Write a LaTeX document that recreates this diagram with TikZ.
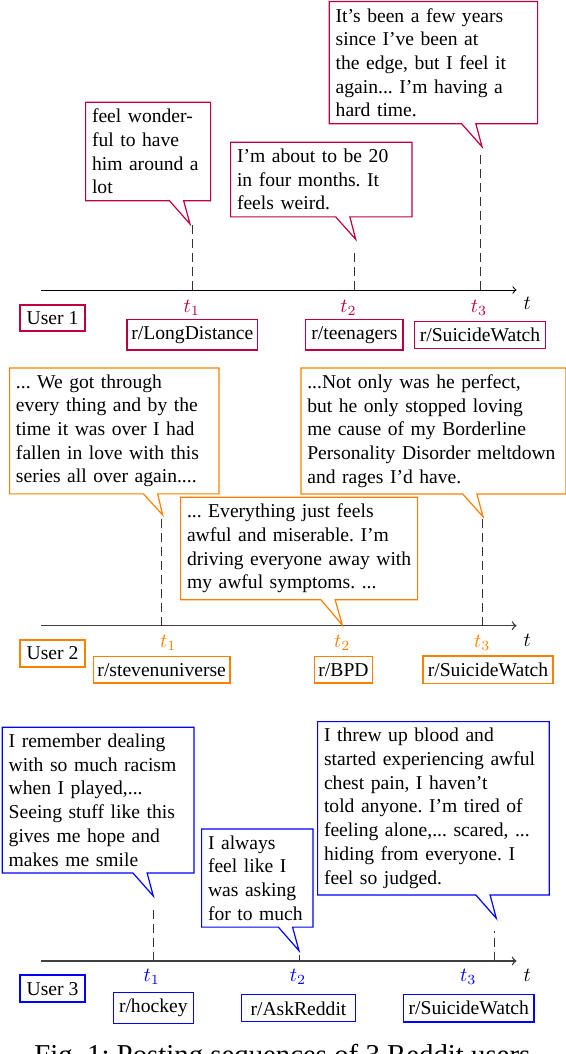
\documentclass[tikz,border=0pt]{standalone}
\usepackage{fontspec}
\setmainfont{Liberation Serif}
\usetikzlibrary{shapes.callouts}
\definecolor{uone}{rgb}{0.75,0,0.25}
\definecolor{utwo}{rgb}{1,0.5,0}
\definecolor{uthree}{rgb}{0,0,1}
\frenchspacing
\begin{document}
\begin{tikzpicture}[x=0.5pt,y=-0.5pt,
  every node/.style={font=\fontsize{9.8}{11.85}\selectfont},
  bubble/.style={rectangle callout, draw=#1, line width=0.6pt, fill=white,
    anchor=north west, align=left, inner xsep=3.2pt, inner ysep=3.33pt},
  subbox/.style={draw=#1, line width=0.6pt, inner xsep=1.5pt, inner ysep=3.33pt},
  userbox/.style={draw=#1, line width=1pt, inner sep=3.33pt},
  tlab/.style={text=#1, inner sep=0pt},
  axisline/.style={->, line width=#1},
  guide/.style={line width=0.5pt, dash pattern=on 4.5pt off 2.5pt, draw=black!80}
]
\useasboundingbox (0,0) rectangle (566,1054);
\clip (0,0) rectangle (566,1054);

% ---------------- User 1 ----------------
\coordinate (o1) at (41,290);
\coordinate (e1) at (516.5,290);
\draw[axisline=0.5pt] (o1) -- (e1);
\node (tt1) at (527.3,303.3) {$t$};
\coordinate (a11) at (192.3,290); \coordinate (d11) at (192.3,225);
\coordinate (a12) at (354.7,290); \coordinate (d12) at (354.7,248);
\coordinate (a13) at (480.3,290); \coordinate (d13) at (480.3,153);
\draw[guide] (a11) -- (d11);
\draw[guide] (a12) -- (d12);
\draw[guide] (a13) -- (d13);
\coordinate (p11) at (190,224);
\coordinate (p12) at (355.7,239.3);
\coordinate (p13) at (482,146.7);
\node[bubble=uone, text width=56.1pt, callout absolute pointer={(p11)}] (b11) at (85,101.7)
  {\mbox{feel wonder-}\\\mbox{ful to have}\\\mbox{him around a}\\\mbox{lot}};
\node[bubble=uone, text width=84.25pt, callout absolute pointer={(p12)}] (b12) at (230,141.7)
  {\mbox{I'm about to be 20}\\\mbox{in four months. It}\\\mbox{feels weird.}};
\node[bubble=uone, text width=97.75pt, callout absolute pointer={(p13)}] (b13) at (328.7,1)
  {\mbox{It's been a few years}\\\mbox{since I've been at}\\\mbox{the edge, but I feel it}\\\mbox{again... I'm having a}\\\mbox{hard time.}};
\node[tlab=uone] (l11) at (191.7,308) {$t_1$};
\node[tlab=uone] (l12) at (348.5,308) {$t_2$};
\node[tlab=uone] (l13) at (479,308) {$t_3$};
\node[userbox=uone] (u1) at (52.5,318.2) {User 1};
\node[subbox=uone, minimum width=65.35pt] (s11) at (192.4,334.8) {r/LongDistance};
\node[subbox=uone, minimum width=48.65pt] (s12) at (354.4,334.8) {r/teenagers};
\node[subbox=uone, minimum width=65.3pt] (s13) at (480,335) {r/SuicideWatch};

% ---------------- User 2 ----------------
\coordinate (o2) at (41,625.7);
\coordinate (e2) at (516.5,625.7);
\draw[axisline=0.7pt, draw=black!75] (o2) -- (e2);
\node (tt2) at (527.3,640) {$t$};
\coordinate (a21) at (161.7,625.7); \coordinate (d21) at (161.7,515);
\coordinate (a23) at (482.3,625.7); \coordinate (d23) at (482.3,518);
\draw[guide] (a21) -- (d21);
\draw[guide] (a23) -- (d23);
\coordinate (p21) at (162.7,515);
\coordinate (p22) at (342.3,625);
\coordinate (p23) at (483,516.7);
\node[bubble=utwo, text width=98.25pt, callout absolute pointer={(p21)}] (b21) at (9,367.3)
  {\mbox{... We got through}\\\mbox{every thing and by the}\\\mbox{time it was over I had}\\\mbox{fallen in love with this}\\\mbox{series all over again....}};
\node[bubble=utwo, text width=112.1pt, callout absolute pointer={(p22)}] (b22) at (180,496.7)
  {\mbox{... Everything just feels}\\\mbox{awful and miserable. I'm}\\\mbox{driving everyone away with}\\\mbox{my awful symptoms. ...}};
\node[bubble=utwo, text width=126.1pt, callout absolute pointer={(p23)}] (b23) at (300.3,367.3)
  {\mbox{...Not only was he perfect,}\\\mbox{but he only stopped loving}\\\mbox{me cause of my Borderline}\\\mbox{Personality Disorder meltdown}\\\mbox{and rages I'd have.}};
\node[tlab=utwo] (l21) at (168.3,642.7) {$t_1$};
\node[tlab=utwo] (l22) at (342.3,642.7) {$t_2$};
\node[tlab=utwo] (l23) at (482.3,642.7) {$t_3$};
\node[userbox=utwo] (u2) at (52.5,653.3) {User 2};
\node[subbox=utwo, minimum width=68.35pt] (s21) at (161.7,669.7) {r/stevenuniverse};
\node[subbox=utwo, minimum width=28.8pt] (s22) at (343.5,669.7) {r/BPD};
\node[subbox=utwo, minimum width=65pt] (s23) at (488,669.7) {r/SuicideWatch};

% ---------------- User 3 ----------------
\coordinate (o3) at (41,961);
\coordinate (e3) at (516.5,961);
\draw[axisline=0.7pt, draw=black!75] (o3) -- (e3);
\node (tt3) at (527.3,975) {$t$};
\coordinate (a31) at (153.3,961); \coordinate (d31) at (153.3,910);
\coordinate (a32) at (299,961); \coordinate (d32) at (299,955);
\coordinate (a33) at (494,961); \coordinate (d33) at (494,931);
\draw[guide] (a31) -- (d31);
\draw[guide] (a32) -- (d32);
\draw[guide] (a33) -- (d33);
\coordinate (p31) at (153.3,896);
\coordinate (p32) at (299,950.7);
\coordinate (p33) at (496.3,918.3);
\node[bubble=uthree, text width=89.4pt, callout absolute pointer={(p31)}] (b31) at (1.7,726.7)
  {\mbox{I remember dealing}\\\mbox{with so much racism}\\\mbox{when I played,...}\\\mbox{Seeing stuff like this}\\\mbox{gives me hope and}\\\mbox{makes me smile}};
\node[bubble=uthree, text width=49.25pt, callout absolute pointer={(p32)}] (b32) at (201,828.3)
  {\mbox{I always}\\\mbox{feel like I}\\\mbox{was asking}\\\mbox{for to much}};
\node[bubble=uthree, text width=109.45pt, callout absolute pointer={(p33)}] (b33) at (317,721)
  {\mbox{I threw up blood and}\\\mbox{started experiencing awful}\\\mbox{chest pain, I haven't}\\\mbox{told anyone. I'm tired of}\\\mbox{feeling alone,... scared, ...}\\\mbox{hiding from everyone. I}\\\mbox{feel so judged.}};
\node[tlab=uthree] (l31) at (151.7,977.3) {$t_1$};
\node[tlab=uthree] (l32) at (298,977.3) {$t_2$};
\node[tlab=uthree] (l33) at (468.3,977.3) {$t_3$};
\node[userbox=uthree] (u3) at (52.5,988.7) {User 3};
\node[subbox=uthree, minimum width=40pt] (s31) at (153.3,1008) {r/hockey};
\node[subbox=uthree, minimum width=56.8pt] (s32) at (298.5,1008.3) {r/AskReddit};
\node[subbox=uthree, minimum width=65.15pt] (s33) at (468.8,1008.3) {r/SuicideWatch};

% caption (partly cut off by the frame)
\node[anchor=base, font=\fontsize{14.4}{17}\selectfont] (cap) at (282.3,1064)
  {Fig.~1: Posting sequences of 3 Reddit users};
\end{tikzpicture}
\end{document}
